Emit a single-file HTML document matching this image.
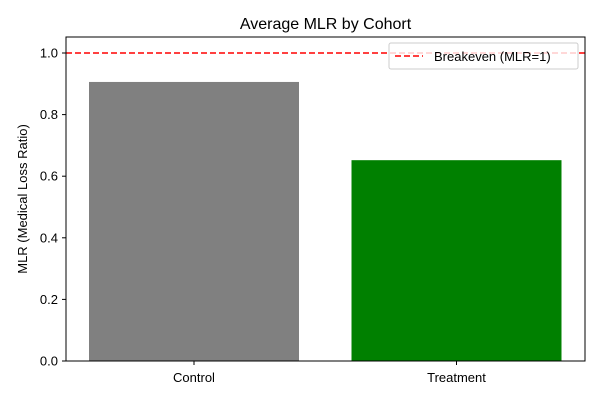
<!DOCTYPE html>
<html><head><meta charset="utf-8"><style>
body{margin:0;background:#fff;}
svg{display:block;font-family:"Liberation Sans","DejaVu Sans",sans-serif;}
</style></head><body>
<svg id="chart" width="600" height="400">
<text x="325.5" y="29" font-size="16" text-anchor="middle">Average MLR by Cohort</text>
<text transform="translate(27,199) rotate(-90)" font-size="13" text-anchor="middle">MLR (Medical Loss Ratio)</text>
<g id="bars"></g><g id="yticks"></g><g id="xticks"></g>
<line id="hline" stroke="red" stroke-width="1.5" stroke-dasharray="6,3"/>
<rect x="66" y="37" width="519" height="324" fill="none" stroke="#000" stroke-width="1"/>
<g>
<rect x="389" y="43" width="189" height="26" fill="#fff" fill-opacity="0.8" stroke="#ccc" rx="2"/>
<line x1="395" y1="56" x2="423" y2="56" stroke="red" stroke-width="1.5" stroke-dasharray="6,3"/>
<text x="434" y="61" font-size="13">Breakeven (MLR=1)</text>
</g>
</svg>
<script>
const categories=["Control","Treatment"];
const values=[0.906,0.652];
const colors=["#808080","#008000"];
const yTicks=[0,0.2,0.4,0.6,0.8,1.0];
const yTickLabels=["0.0","0.2","0.4","0.6","0.8","1.0"];
const breakeven=1.0;
const NS="http://www.w3.org/2000/svg";
function yS(v){return 361-v*308;}
function xS(i){return 194+i*262.5;}
function mk(t,a,p){const e=document.createElementNS(NS,t);for(const k in a)e.setAttribute(k,a[k]);p.appendChild(e);return e;}
const bars=document.getElementById('bars'),yt=document.getElementById('yticks'),xt=document.getElementById('xticks');
categories.forEach((c,i)=>{
 const r=mk('rect',{x:xS(i)-105,y:yS(values[i]),width:210,height:yS(0)-yS(values[i]),fill:colors[i]},bars);
 
 
 mk('line',{x1:xS(i),x2:xS(i),y1:361,y2:365,stroke:'#000'},xt);
 const t=mk('text',{x:xS(i),y:382,'font-size':13,'text-anchor':'middle'},xt);t.textContent=c;
 
 
});
yTicks.forEach((v,i)=>{
 mk('line',{x1:62,x2:66,y1:yS(v),y2:yS(v),stroke:'#000'},yt);
 const t=mk('text',{x:58,y:yS(v)+4.5,'font-size':13,'text-anchor':'end'},yt);t.textContent=yTickLabels[i];
 
 
});
const h=document.getElementById('hline');
h.setAttribute('x1',66);h.setAttribute('x2',585);h.setAttribute('y1',yS(breakeven));h.setAttribute('y2',yS(breakeven));
</script>
</body></html>
